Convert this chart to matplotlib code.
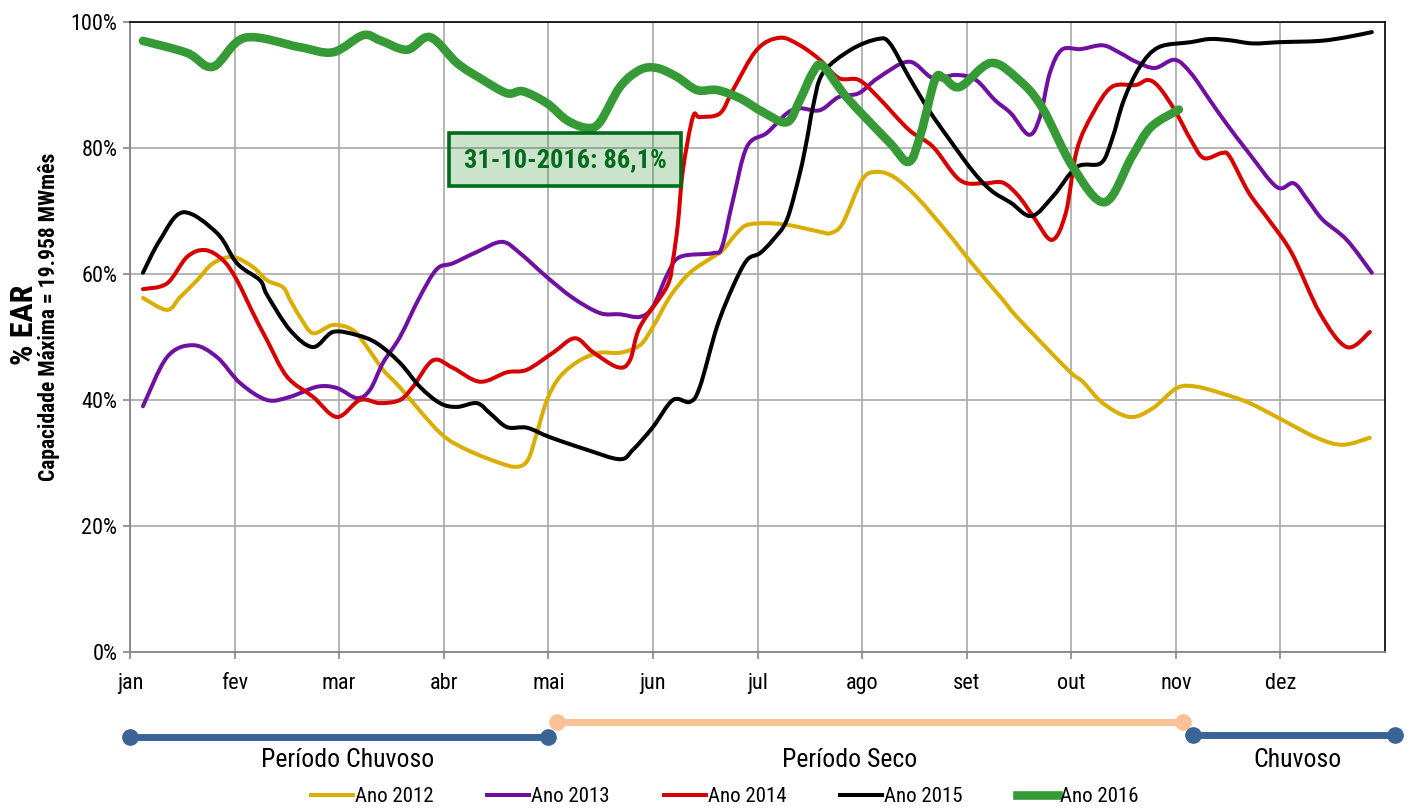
"""Energia Armazenada (% EAR) por ano, jan-dez, com períodos chuvoso/seco."""

import matplotlib

matplotlib.use("Agg")
import matplotlib.pyplot as plt
from matplotlib import font_manager
from matplotlib.lines import Line2D
from matplotlib.patches import PathPatch
from matplotlib.path import Path

# Excel chart uses Arial Narrow; take the closest narrow family that is installed
installed = {f.name for f in font_manager.fontManager.ttflist}
narrow = [n for n in ["Liberation Sans Narrow", "Arial Narrow", "Roboto Condensed",
                      "Archivo Narrow", "PT Sans Narrow", "Liberation Sans"] if n in installed]
plt.rcParams["font.family"] = narrow[:1] + ["DejaVu Sans"]

MONTHS = ["jan", "fev", "mar", "abr", "mai", "jun", "jul", "ago", "set", "out", "nov", "dez"]

# x in months since 1 jan, y in % EAR
x2012 = [0.124, 0.354, 0.478, 0.641, 0.794, 0.985, 1.176, 1.310, 1.463, 1.530, 1.625, 1.750, 1.941,
         2.132, 2.266, 2.419, 2.581, 2.964, 3.222, 3.537, 3.700, 3.805, 3.891, 3.987, 4.111, 4.302,
         4.493, 4.685, 4.876, 5.000, 5.163, 5.354, 5.574, 5.669, 5.803, 5.927, 6.243, 6.597, 6.702,
         6.816, 6.998, 7.132, 7.304, 7.524, 7.820, 8.050, 8.346, 8.480, 8.967, 9.111, 9.302, 9.560,
         9.780, 10.010, 10.201, 10.488, 10.707, 10.966, 11.348, 11.597, 11.855]
y2012 = [56.2, 54.3, 56.3, 59.0, 61.7, 62.7, 61.1, 59.0, 57.9, 55.9, 53.2, 50.6, 51.9,
         51.1, 48.4, 44.8, 42.0, 34.8, 32.1, 30.0, 29.4, 30.5, 34.8, 40.0, 43.7, 46.3,
         47.5, 47.5, 48.7, 51.6, 56.4, 60.2, 62.7, 63.8, 66.5, 67.9, 67.9, 66.7, 66.5,
         68.1, 74.9, 76.2, 75.4, 72.2, 66.5, 61.7, 55.9, 53.2, 44.8, 42.9, 39.5, 37.3,
         38.7, 41.9, 42.1, 40.8, 39.5, 37.3, 34.0, 32.9, 34.0]

x2013 = [0.124, 0.354, 0.602, 0.832, 1.052, 1.310, 1.530, 1.788, 1.979, 2.170, 2.294, 2.419, 2.581,
         2.772, 2.935, 3.088, 3.317, 3.556, 3.729, 3.987, 4.235, 4.493, 4.685, 4.876, 5.000, 5.134,
         5.258, 5.574, 5.660, 5.765, 5.899, 6.090, 6.281, 6.405, 6.597, 6.778, 6.969, 7.151, 7.447,
         7.677, 7.897, 8.088, 8.270, 8.423, 8.595, 8.700, 8.795, 8.910, 9.092, 9.302, 9.465, 9.618,
         9.799, 9.990, 10.143, 10.325, 10.478, 10.698, 10.966, 11.128, 11.262, 11.405, 11.635, 11.874]
y2013 = [39.0, 46.8, 48.7, 46.8, 42.7, 40.0, 40.5, 42.1, 41.9, 40.3, 41.6, 45.9, 50.0,
         56.4, 60.8, 61.7, 63.5, 65.1, 63.3, 59.5, 56.2, 53.8, 53.6, 53.2, 54.8, 59.8,
         62.7, 63.3, 64.3, 71.7, 80.2, 82.4, 85.5, 86.3, 86.0, 88.1, 88.7, 91.1, 93.7,
         91.1, 91.6, 90.8, 87.6, 85.5, 82.1, 84.9, 91.9, 95.6, 95.7, 96.3, 95.1, 93.7,
         92.7, 94.0, 91.9, 87.6, 84.0, 79.2, 73.8, 74.4, 71.7, 68.6, 65.4, 60.2]

x2014 = [0.124, 0.354, 0.545, 0.717, 0.889, 1.023, 1.176, 1.310, 1.501, 1.750, 1.979, 2.199, 2.390,
         2.581, 2.706, 2.897, 3.088, 3.346, 3.604, 3.795, 4.044, 4.254, 4.426, 4.665, 4.780, 4.876,
         5.134, 5.191, 5.239, 5.287, 5.382, 5.449, 5.641, 5.765, 5.994, 6.214, 6.405, 6.597, 6.778,
         6.969, 7.151, 7.447, 7.677, 7.935, 8.164, 8.346, 8.499, 8.642, 8.815, 8.948, 9.054, 9.207,
         9.388, 9.618, 9.732, 9.837, 9.990, 10.143, 10.268, 10.440, 10.516, 10.698, 10.889, 11.109,
         11.377, 11.635, 11.855]
y2014 = [57.6, 58.5, 62.7, 63.8, 62.2, 59.0, 53.8, 49.5, 43.7, 40.5, 37.3, 40.0, 39.5,
         40.0, 42.1, 46.3, 45.1, 42.9, 44.4, 44.8, 47.5, 49.8, 47.6, 45.2, 46.3, 51.6,
         58.0, 62.2, 68.0, 76.5, 84.9, 84.9, 85.5, 89.2, 95.6, 97.5, 96.3, 94.0, 91.1,
         90.8, 88.1, 82.9, 80.2, 74.9, 74.4, 74.5, 72.3, 69.0, 65.4, 69.7, 79.7, 85.5,
         89.7, 90.0, 90.8, 89.7, 86.0, 81.3, 78.4, 79.2, 78.6, 72.9, 68.6, 63.3,
         53.8, 48.4, 50.8]

x2015 = [0.124, 0.287, 0.507, 0.832, 1.023, 1.243, 1.310, 1.530, 1.750, 1.941, 2.170, 2.361, 2.581,
         2.772, 2.964, 3.126, 3.317, 3.442, 3.604, 3.795, 4.015, 4.369, 4.685, 4.809, 5.000, 5.191,
         5.354, 5.449, 5.612, 5.765, 5.899, 6.023, 6.147, 6.281, 6.405, 6.472, 6.530, 6.625, 6.893,
         7.151, 7.266, 7.447, 7.639, 7.820, 8.050, 8.231, 8.423, 8.623, 8.834, 9.054, 9.283, 9.388,
         9.503, 9.656, 9.837, 10.143, 10.325, 10.516, 10.736, 10.994, 11.377, 11.635, 11.874]
y2015 = [60.2, 65.4, 69.8, 66.5, 61.7, 59.0, 56.7, 51.1, 48.4, 50.8, 50.3, 49.0, 45.9,
         42.1, 39.5, 38.9, 39.5, 37.9, 35.7, 35.6, 34.1, 32.1, 30.6, 32.1, 35.7, 40.0,
         39.7, 42.1, 51.6, 58.0, 62.2, 63.3, 65.4, 68.6, 76.0, 81.3, 86.5, 91.9, 95.6,
         97.3, 96.6, 91.3, 86.0, 81.7, 76.5, 73.3, 71.3, 69.2, 72.5, 77.0, 77.6, 81.3,
         87.6, 92.9, 96.0, 96.8, 97.3, 97.1, 96.6, 96.8, 97.0, 97.6, 98.4]

x2016 = [0.124, 0.545, 0.794, 1.099, 1.625, 1.941, 2.228, 2.390, 2.648, 2.868, 3.126, 3.346, 3.604,
         3.757, 3.987, 4.178, 4.369, 4.493, 4.685, 4.876, 5.038, 5.229, 5.421, 5.612, 5.832, 6.052,
         6.281, 6.405, 6.530, 6.625, 6.855, 7.266, 7.447, 7.562, 7.696, 7.782, 7.935, 8.231, 8.499,
         8.719, 9.015, 9.321, 9.579, 9.761, 10.029]
y2016 = [97.0, 95.1, 92.9, 97.5, 96.0, 95.2, 97.9, 97.1, 95.6, 97.6, 93.5, 91.1, 88.7,
         89.0, 87.1, 84.4, 83.2, 84.1, 89.7, 92.4, 92.7, 91.3, 89.2, 89.2, 87.9, 85.7,
         84.1, 87.6, 92.0, 93.0, 88.0, 80.8, 77.8, 82.3, 90.8, 91.1, 89.7, 93.5, 90.8,
         86.5, 77.0, 71.4, 78.6, 83.3, 86.1]

# period bands (month start, month end)
period_names = ["Período Chuvoso", "Período Seco", "Chuvoso"]
period_start = [0.0, 4.08, 10.16]
period_end = [4.0, 10.07, 12.1]
period_colors = ["#3A6496", "#F9C294", "#3A6496"]

series = [
    ("Ano 2012", x2012, y2012, "#DAAE00", 2.9),
    ("Ano 2013", x2013, y2013, "#7010A0", 2.9),
    ("Ano 2014", x2014, y2014, "#D60000", 2.9),
    ("Ano 2015", x2015, y2015, "#000000", 2.9),
    ("Ano 2016", x2016, y2016, "#369A37", 6.2),
]


def smooth_path(xs, ys):
    # Excel-style smoothed line: cubic Bezier through every point
    pts = list(zip(xs, ys))
    verts = [pts[0]]
    codes = [Path.MOVETO]
    n = len(pts)
    for i in range(n - 1):
        p0 = pts[max(i - 1, 0)]
        p1 = pts[i]
        p2 = pts[i + 1]
        p3 = pts[min(i + 2, n - 1)]
        c1 = (p1[0] + (p2[0] - p0[0]) / 6, p1[1] + (p2[1] - p0[1]) / 6)
        c2 = (p2[0] - (p3[0] - p1[0]) / 6, p2[1] - (p3[1] - p1[1]) / 6)
        verts += [c1, c2, p2]
        codes += [Path.CURVE4] * 3
    return Path(verts, codes)


W, H = 1410, 809
fig = plt.figure(figsize=(W / 100, H / 100), dpi=100)
ax = fig.add_axes([130 / W, 1 - 652 / H, 1255 / W, 630 / H])

handles = []
for name, xs, ys, col, lw in series:
    ax.add_patch(PathPatch(smooth_path(xs, ys), fill=False, edgecolor=col, lw=lw,
                           capstyle="round", joinstyle="round"))
    handles.append(Line2D([], [], color=col, lw=lw, label=name))

ax.set_xlim(0, 12)
ax.set_ylim(0, 100)
ax.set_xticks(range(12), MONTHS)
ax.set_yticks(range(0, 101, 20), [f"{v}%" for v in range(0, 101, 20)])
ax.grid(True, color="#A8A8A8", lw=1.2)
ax.set_axisbelow(True)
ax.tick_params(axis="both", labelsize=16, color="#868686", length=5, width=1.2, direction="out")
ax.tick_params(axis="x", pad=10)
ax.tick_params(axis="y", pad=4)
for s in ["left", "bottom"]:
    ax.spines[s].set_color("#868686")
    ax.spines[s].set_linewidth(1.3)
for s in ["top", "right"]:
    ax.spines[s].set_color("#000000")
    ax.spines[s].set_linewidth(1.2)

ax.text(4.16, 78.1, "31-10-2016: 86,1%", ha="center", va="center", fontsize=19,
        fontweight="bold", color="#006B1A", zorder=1,
        bbox=dict(boxstyle="square,pad=0.55", facecolor=(0.2, 0.55, 0.2, 0.25),
                  edgecolor="#006B1A", lw=2.6))

fig.text(24 / W, 1 - 325 / H, "% EAR", rotation=90, ha="center", va="center",
         fontsize=23, fontweight="bold")
fig.text(49 / W, 1 - 317 / H, "Capacidade Máxima = 19.958 MWmês", rotation=90,
         ha="center", va="center", fontsize=15.5, fontweight="bold")

# period strip below the chart, same x scale
ax2 = fig.add_axes([130 / W, 1 - 780 / H, 1255 / W, 80 / H])
ax2.set_xlim(0, 12)
ax2.set_ylim(80, 0)  # pixel rows below the chart
ax2.axis("off")
bar_rows = [37, 22, 35]
label_x = [2.08, 6.88, 11.16]
for name, x0, x1, col, row, lx in zip(period_names, period_start, period_end, period_colors,
                                      bar_rows, label_x):
    ax2.plot([x0, x1], [row, row], color=col, lw=5, marker="o", ms=11, clip_on=False)
    ax2.text(lx, 60, name, ha="center", va="center", fontsize=18.5)

fig.legend(handles=handles, loc="center", bbox_to_anchor=(725 / W, 1 - 797 / H), ncol=5,
           frameon=False, fontsize=15, handlelength=2.0, handletextpad=0.1, columnspacing=2.6)

fig.savefig("out.png", dpi=100)
